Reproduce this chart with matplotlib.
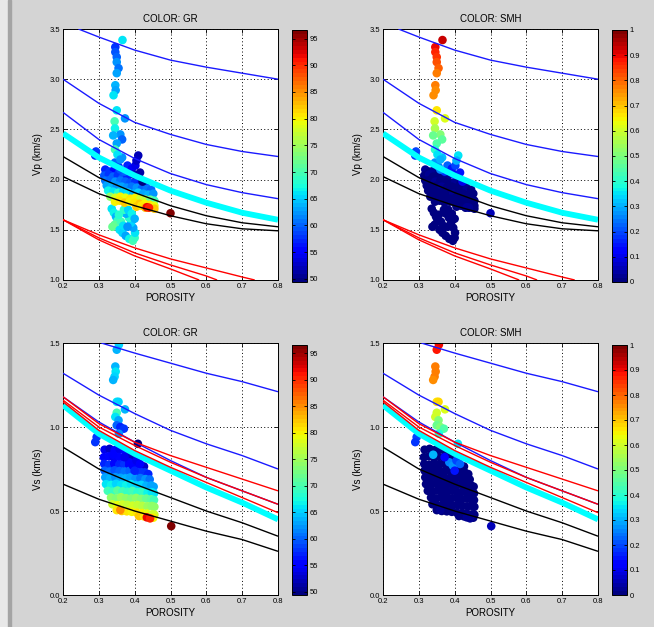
"""Vp / Vs vs porosity crossplots coloured by GR and SMH, with model lines."""

import matplotlib

matplotlib.use("Agg")
import matplotlib.pyplot as plt
import numpy as np
from matplotlib.patches import Rectangle

plt.rcParams["font.family"] = ["Liberation Sans", "DejaVu Sans"]

# --- model curves (x = porosity) ---
PHI = [0.2, 0.3, 0.4, 0.5, 0.6, 0.7, 0.8]

VP_BLUE1_PHI = [0.243, 0.3, 0.4, 0.5, 0.6, 0.7, 0.8]
VP_BLUE1 = [3.50, 3.42, 3.29, 3.19, 3.12, 3.06, 3.00]
VP_BLUE2 = [3.00, 2.76, 2.57, 2.45, 2.35, 2.28, 2.23]
VP_BLUE3 = [2.67, 2.40, 2.21, 2.06, 1.95, 1.87, 1.81]
VP_CYAN = [2.46, 2.22, 2.04, 1.89, 1.77, 1.67, 1.60]
VP_BLACK1 = [2.23, 2.02, 1.87, 1.74, 1.64, 1.57, 1.53]
VP_BLACK2 = [2.03, 1.86, 1.74, 1.64, 1.56, 1.51, 1.49]
VP_RED1_PHI = [0.2, 0.3, 0.4, 0.5, 0.6, 0.7, 0.735]
VP_RED1 = [1.60, 1.45, 1.32, 1.21, 1.12, 1.03, 1.00]
VP_RED2_PHI = [0.2, 0.3, 0.4, 0.5, 0.6, 0.63]
VP_RED2 = [1.60, 1.42, 1.27, 1.15, 1.04, 1.00]
VP_RED3_PHI = [0.2, 0.3, 0.4, 0.5, 0.58]
VP_RED3 = [1.60, 1.40, 1.24, 1.11, 1.00]

VS_BLUE1_PHI = [0.307, 0.4, 0.5, 0.6, 0.7, 0.8]
VS_BLUE1 = [1.50, 1.44, 1.38, 1.32, 1.27, 1.21]
VS_BLUE2 = [1.32, 1.19, 1.08, 0.98, 0.90, 0.83, 0.75]
VS_BLUE3 = [1.18, 1.03, 0.91, 0.80, 0.70, 0.62, 0.54]
VS_RED1 = [1.18, 1.02, 0.91, 0.83, 0.76, 0.69, 0.62]
VS_RED2 = [1.16, 1.00, 0.89, 0.79, 0.70, 0.62, 0.54]
VS_RED3 = [1.15, 0.98, 0.86, 0.76, 0.67, 0.58, 0.49]
VS_CYAN = [1.13, 0.96, 0.84, 0.74, 0.64, 0.55, 0.45]
VS_BLACK1 = [0.88, 0.75, 0.66, 0.58, 0.50, 0.43, 0.35]
VS_BLACK2 = [0.66, 0.57, 0.50, 0.44, 0.38, 0.33, 0.26]

# --- Vp samples ---
# bulk cloud + low-Vp tail (shale-free, SMH ~ 0)
VP_BULK_PHI = [
    0.318, 0.330, 0.342, 0.356,
    0.315, 0.328, 0.340, 0.353, 0.366, 0.380,
    0.318, 0.332, 0.346, 0.360, 0.374, 0.388, 0.402, 0.416, 0.430,
    0.322, 0.336, 0.350, 0.364, 0.378, 0.392, 0.406, 0.420, 0.434, 0.446,
    0.326, 0.340, 0.354, 0.368, 0.382, 0.396, 0.410, 0.424, 0.438, 0.452,
    0.336, 0.342, 0.348, 0.352, 0.344, 0.338, 0.358, 0.366, 0.375, 0.385,
    0.395, 0.400, 0.401, 0.396, 0.390, 0.384, 0.376, 0.370, 0.382, 0.392,
    0.400, 0.362, 0.368, 0.356, 0.380,
    0.332, 0.346, 0.360, 0.374, 0.388, 0.402, 0.416, 0.430, 0.444, 0.455,
    0.345, 0.358, 0.372, 0.386, 0.400, 0.414, 0.428, 0.442, 0.455,
    0.405, 0.418, 0.430, 0.448, 0.455,
]
VP_BULK_V = [
    2.10, 2.08, 2.09, 2.07,
    2.04, 2.05, 2.03, 2.04, 2.02, 2.03,
    1.99, 2.00, 1.98, 1.99, 1.98, 1.97, 1.98, 1.96, 1.95,
    1.94, 1.93, 1.94, 1.93, 1.92, 1.93, 1.92, 1.91, 1.91, 1.90,
    1.89, 1.88, 1.87, 1.88, 1.87, 1.86, 1.87, 1.86, 1.85, 1.86,
    1.71, 1.67, 1.63, 1.59, 1.55, 1.53, 1.50, 1.47, 1.44, 1.41,
    1.39, 1.42, 1.47, 1.52, 1.57, 1.62, 1.66, 1.70, 1.70, 1.66,
    1.61, 1.58, 1.54, 1.65, 1.53,
    1.83, 1.82, 1.83, 1.82, 1.81, 1.82, 1.81, 1.80, 1.80, 1.79,
    1.78, 1.79, 1.77, 1.78, 1.77, 1.76, 1.76, 1.75, 1.74,
    1.73, 1.74, 1.72, 1.72, 1.71,
]
VP_BULK_GR = [
    57, 58, 56, 58,
    59, 58, 60, 58, 59, 57,
    61, 60, 62, 61, 60, 59, 58, 57, 56,
    63, 64, 62, 63, 62, 61, 62, 60, 61, 60,
    67, 66, 68, 65, 66, 64, 65, 63, 64, 62,
    66, 67, 64, 69, 71, 72, 66, 65, 63, 67,
    70, 69, 66, 63, 65, 68, 64, 69, 65, 67,
    64, 70, 66, 68, 62,
    74, 78, 80, 79, 81, 80, 78, 77, 72, 70,
    80, 81, 82, 80, 81, 82, 80, 81, 79,
    82, 81, 83, 80, 82,
]
VP_BULK_SMH = [
    0.02, 0.01, 0.02, 0.01,
    0.01, 0.02, 0.01, 0.00, 0.01, 0.02,
    0.00, 0.01, 0.02, 0.01, 0.00, 0.01, 0.02, 0.01, 0.00,
    0.01, 0.00, 0.01, 0.02, 0.00, 0.01, 0.00, 0.01, 0.02, 0.00,
    0.00, 0.01, 0.00, 0.01, 0.00, 0.02, 0.01, 0.00, 0.01, 0.00,
    0.00, 0.01, 0.00, 0.00, 0.01, 0.00, 0.01, 0.00, 0.00, 0.01,
    0.00, 0.01, 0.00, 0.00, 0.01, 0.00, 0.00, 0.01, 0.00, 0.00,
    0.01, 0.00, 0.00, 0.01, 0.00,
    0.00, 0.01, 0.00, 0.01, 0.00, 0.00, 0.01, 0.00, 0.00, 0.01,
    0.00, 0.00, 0.01, 0.00, 0.00, 0.01, 0.00, 0.00, 0.01,
    0.00, 0.01, 0.00, 0.00, 0.01,
]
# points just above the cloud
VP_UP_PHI = [0.292, 0.290, 0.345, 0.355, 0.365, 0.380, 0.372, 0.392, 0.402, 0.410,
             0.405, 0.398, 0.415, 0.422, 0.360]
VP_UP_V = [2.28, 2.24, 2.17, 2.13, 2.22, 2.14, 2.08, 2.11, 2.14, 2.24,
           2.19, 2.05, 2.07, 1.98, 2.10]
VP_UP_GR = [58, 57, 60, 58, 62, 57, 60, 55, 54, 52,
            53, 52, 51, 50, 59]
VP_UP_SMH = [0.20, 0.18, 0.28, 0.25, 0.32, 0.22, 0.18, 0.15, 0.20, 0.35,
             0.30, 0.12, 0.15, 0.10, 0.25]
# high-velocity column
VP_COL_PHI = [0.366, 0.346, 0.346, 0.350, 0.350, 0.355, 0.350, 0.346, 0.347, 0.341,
              0.350, 0.373, 0.344, 0.345, 0.360, 0.340, 0.365, 0.350, 0.345, 0.352,
              0.360]
VP_COL_V = [3.39, 3.32, 3.27, 3.22, 3.17, 3.11, 3.06, 2.94, 2.89, 2.84,
            2.69, 2.61, 2.58, 2.51, 2.45, 2.44, 2.40, 2.36, 2.30, 2.25,
            2.20]
VP_COL_GR = [66, 58, 59, 60, 62, 61, 63, 64, 63, 66,
             66, 62, 70, 67, 62, 64, 60, 63, 70, 66,
             62]
VP_COL_SMH = [0.93, 0.90, 0.86, 0.85, 0.82, 0.80, 0.78, 0.78, 0.76, 0.75,
              0.67, 0.62, 0.60, 0.55, 0.50, 0.48, 0.46, 0.45, 0.40, 0.35,
              0.30]
# high-GR points
VP_HI_PHI = [0.434, 0.440, 0.500]
VP_HI_V = [1.725, 1.720, 1.665]
VP_HI_GR = [92, 90, 96]
VP_HI_SMH = [0.02, 0.02, 0.06]

# --- Vs samples ---
VS_BULK_PHI = [
    0.316, 0.330, 0.344, 0.358, 0.372,
    0.314, 0.328, 0.342, 0.356, 0.370, 0.384, 0.398,
    0.315, 0.329, 0.343, 0.357, 0.371, 0.385, 0.399, 0.413, 0.426,
    0.316, 0.330, 0.344, 0.358, 0.372, 0.386, 0.400, 0.414, 0.428, 0.438,
    0.318, 0.332, 0.346, 0.360, 0.374, 0.388, 0.402, 0.416, 0.430, 0.442,
    0.320, 0.334, 0.348, 0.362, 0.376, 0.390, 0.404, 0.418, 0.432, 0.446, 0.453,
    0.325, 0.338, 0.352, 0.366, 0.380, 0.394, 0.408, 0.422, 0.436, 0.448, 0.454,
    0.334, 0.348, 0.362, 0.376, 0.390, 0.404, 0.418, 0.432, 0.446, 0.454,
    0.338, 0.352, 0.366, 0.380, 0.394, 0.408, 0.422, 0.436, 0.448, 0.455,
    0.350, 0.364, 0.378, 0.392, 0.406, 0.420, 0.434, 0.448, 0.455,
    0.412, 0.426, 0.452,
]
VS_BULK_V = [
    0.865, 0.870, 0.862, 0.868, 0.858,
    0.820, 0.825, 0.818, 0.822, 0.815, 0.820, 0.810,
    0.780, 0.775, 0.782, 0.776, 0.780, 0.772, 0.778, 0.770, 0.765,
    0.740, 0.735, 0.742, 0.738, 0.735, 0.740, 0.732, 0.736, 0.730, 0.720,
    0.700, 0.695, 0.702, 0.698, 0.694, 0.700, 0.692, 0.696, 0.690, 0.688,
    0.660, 0.655, 0.662, 0.656, 0.654, 0.660, 0.652, 0.656, 0.650, 0.652, 0.645,
    0.620, 0.615, 0.622, 0.617, 0.614, 0.620, 0.612, 0.616, 0.610, 0.612, 0.605,
    0.580, 0.575, 0.582, 0.576, 0.574, 0.578, 0.572, 0.574, 0.570, 0.565,
    0.540, 0.535, 0.538, 0.536, 0.532, 0.535, 0.530, 0.528, 0.530, 0.525,
    0.505, 0.500, 0.498, 0.495, 0.490, 0.488, 0.485, 0.480, 0.478,
    0.470, 0.468, 0.460,
]
VS_BULK_GR = [
    54, 53, 55, 54, 56,
    55, 56, 54, 56, 55, 53, 52,
    57, 58, 56, 57, 58, 56, 55, 54, 53,
    60, 61, 59, 60, 61, 60, 59, 58, 58, 57,
    63, 64, 62, 63, 64, 63, 62, 61, 62, 61,
    66, 67, 65, 66, 67, 66, 65, 65, 64, 63, 63,
    70, 69, 71, 70, 69, 70, 68, 69, 67, 66, 66,
    74, 73, 75, 74, 73, 74, 73, 72, 71, 70,
    78, 79, 78, 77, 78, 77, 76, 75, 74, 74,
    81, 82, 81, 80, 81, 80, 79, 78, 78,
    82, 81, 80,
]
VS_BULK_SMH = [
    0.01, 0.00, 0.01, 0.00, 0.01,
    0.00, 0.01, 0.00, 0.01, 0.00, 0.01, 0.00,
    0.00, 0.01, 0.00, 0.00, 0.01, 0.00, 0.01, 0.00, 0.00,
    0.01, 0.00, 0.00, 0.01, 0.00, 0.00, 0.01, 0.00, 0.00, 0.01,
    0.00, 0.00, 0.01, 0.00, 0.00, 0.01, 0.00, 0.00, 0.01, 0.00,
    0.00, 0.01, 0.00, 0.00, 0.01, 0.00, 0.00, 0.01, 0.00, 0.00, 0.01,
    0.00, 0.00, 0.01, 0.00, 0.00, 0.01, 0.00, 0.00, 0.01, 0.00, 0.00,
    0.01, 0.00, 0.00, 0.01, 0.00, 0.00, 0.01, 0.00, 0.00, 0.01,
    0.00, 0.00, 0.01, 0.00, 0.00, 0.01, 0.00, 0.00, 0.01, 0.00,
    0.00, 0.01, 0.00, 0.00, 0.01, 0.00, 0.00, 0.01, 0.00,
    0.00, 0.01, 0.00,
]
VS_LIGHT_PHI = [0.340, 0.385, 0.395, 0.400, 0.405, 0.415, 0.372]
VS_LIGHT_V = [0.835, 0.79, 0.77, 0.74, 0.80, 0.78, 0.82]
VS_LIGHT_GR = [55, 56, 55, 57, 54, 55, 54]
VS_LIGHT_SMH = [0.30, 0.25, 0.28, 0.15, 0.20, 0.22, 0.12]

VS_COL_PHI = [0.356, 0.350, 0.346, 0.347, 0.344, 0.340, 0.350, 0.355, 0.373, 0.350,
              0.346, 0.355, 0.350, 0.360, 0.370, 0.356, 0.294, 0.290, 0.409]
VS_COL_V = [1.49, 1.46, 1.36, 1.33, 1.30, 1.28, 1.15, 1.15, 1.105, 1.085,
            1.06, 1.04, 1.01, 1.00, 0.99, 0.96, 0.94, 0.91, 0.90]
VS_COL_GR = [65, 64, 64, 66, 65, 64, 66, 65, 64, 70,
             66, 63, 60, 57, 58, 62, 58, 58, 50]
VS_COL_SMH = [0.90, 0.88, 0.78, 0.78, 0.77, 0.76, 0.66, 0.68, 0.62, 0.60,
              0.60, 0.50, 0.48, 0.50, 0.45, 0.38, 0.20, 0.18, 0.35]

VS_HI_PHI = [0.360, 0.434, 0.443, 0.502]
VS_HI_V = [0.506, 0.462, 0.456, 0.410]
VS_HI_GR = [85, 92, 90, 96]
VS_HI_SMH = [0.02, 0.02, 0.02, 0.06]

GR_TICKS = [50, 55, 60, 65, 70, 75, 80, 85, 90, 95]
GR_LIM = (49.4, 96.6)
SMH_TICKS = [0, 0.1, 0.2, 0.3, 0.4, 0.5, 0.6, 0.7, 0.8, 0.9, 1]
SMH_TICKLABELS = ["0", "0.1", "0.2", "0.3", "0.4", "0.5", "0.6", "0.7", "0.8", "0.9", "1"]
X_TICKS = [0.2, 0.3, 0.4, 0.5, 0.6, 0.7, 0.8]

W, H = 654, 627
CMAP = plt.get_cmap("jet", 64)
BLUE = "#1a1aff"


def fig_rect(x0, y0, x1, y1):
    """pixel box (top-left origin) -> figure fraction rect."""
    return [x0 / W, 1 - y1 / H, (x1 - x0) / W, (y1 - y0) / H]


def draw_panel(fig, ax_px, cb_px, phi, vel, col, clim, cticks, clabels,
               curves, ylim, yticks, ylabel, title):
    ax = fig.add_axes(fig_rect(*ax_px))
    cax = fig.add_axes(fig_rect(*cb_px))

    sc = ax.scatter(phi, vel, c=col, cmap=CMAP, vmin=clim[0], vmax=clim[1],
                    s=38, linewidths=0, zorder=2)
    for x, y, color, lw in curves:
        ax.plot(x, y, "-", color=color, lw=lw, zorder=3, solid_capstyle="butt")

    ax.set_xlim(0.2, 0.8)
    ax.set_ylim(*ylim)
    ax.set_xticks(X_TICKS)
    ax.set_xticklabels([f"{t:.1f}" for t in X_TICKS])
    ax.set_yticks(yticks)
    ax.set_yticklabels([f"{t:.1f}" for t in yticks])
    ax.grid(True, color="black", linestyle=(0, (1, 2.5)), lw=0.7)
    ax.set_axisbelow(True)
    ax.tick_params(direction="in", top=True, right=True, length=3, width=0.6,
                   labelsize=5.5, pad=2)
    for sp in ax.spines.values():
        sp.set_linewidth(0.7)
    ax.set_xlabel("POROSITY", fontsize=7, labelpad=2)
    ax.set_ylabel(ylabel, fontsize=7, labelpad=5)
    ax.set_title(title, fontsize=7, pad=5)

    cb = fig.colorbar(sc, cax=cax)
    cb.set_ticks(cticks)
    cb.set_ticklabels(clabels)
    cax.yaxis.set_ticks_position("both")
    cax.tick_params(direction="in", length=2, width=0.6, labelsize=5.5, pad=2,
                    labelleft=False, labelright=True)
    cb.outline.set_linewidth(0.7)


def main():
    fig = plt.figure(figsize=(W / 100, H / 100), dpi=100, facecolor="#d4d4d4")
    # window frame strip on the left edge
    fig.add_artist(Rectangle((0, 0), 8 / W, 1, transform=fig.transFigure,
                             color="#e8e8e8", zorder=0))
    fig.add_artist(Rectangle((8 / W, 0), 3 / W, 1, transform=fig.transFigure,
                             color="#a4a4a4", zorder=0))

    vp_phi = np.concatenate([VP_BULK_PHI, VP_UP_PHI, VP_COL_PHI, VP_HI_PHI])
    vp_v = np.concatenate([VP_BULK_V, VP_UP_V, VP_COL_V, VP_HI_V])
    vp_gr = np.concatenate([VP_BULK_GR, VP_UP_GR, VP_COL_GR, VP_HI_GR])
    vp_smh = np.concatenate([VP_BULK_SMH, VP_UP_SMH, VP_COL_SMH, VP_HI_SMH])

    vs_phi = np.concatenate([VS_BULK_PHI, VS_LIGHT_PHI, VS_COL_PHI, VS_HI_PHI])
    vs_v = np.concatenate([VS_BULK_V, VS_LIGHT_V, VS_COL_V, VS_HI_V])
    vs_gr = np.concatenate([VS_BULK_GR, VS_LIGHT_GR, VS_COL_GR, VS_HI_GR])
    vs_smh = np.concatenate([VS_BULK_SMH, VS_LIGHT_SMH, VS_COL_SMH, VS_HI_SMH])

    vp_curves = [
        (VP_BLUE1_PHI, VP_BLUE1, BLUE, 1.0),
        (PHI, VP_BLUE2, BLUE, 1.0),
        (PHI, VP_BLUE3, BLUE, 1.0),
        (PHI, VP_CYAN, "#00ffff", 4.2),
        (PHI, VP_BLACK1, "black", 1.0),
        (PHI, VP_BLACK2, "black", 1.0),
        (VP_RED1_PHI, VP_RED1, "red", 1.0),
        (VP_RED2_PHI, VP_RED2, "red", 1.0),
        (VP_RED3_PHI, VP_RED3, "red", 1.0),
    ]
    vs_curves = [
        (VS_BLUE1_PHI, VS_BLUE1, BLUE, 1.0),
        (PHI, VS_BLUE2, BLUE, 1.0),
        (PHI, VS_CYAN, "#00ffff", 4.2),
        (PHI, VS_BLUE3, BLUE, 1.0),
        (PHI, VS_RED1, "red", 1.0),
        (PHI, VS_RED2, "red", 1.0),
        (PHI, VS_RED3, "red", 1.0),
        (PHI, VS_BLACK1, "black", 1.0),
        (PHI, VS_BLACK2, "black", 1.0),
    ]
    gr_labels = [str(t) for t in GR_TICKS]
    vp_ticks = [1.0, 1.5, 2.0, 2.5, 3.0, 3.5]
    vs_ticks = [0.0, 0.5, 1.0, 1.5]

    draw_panel(fig, (63, 29, 278, 280), (292, 30, 307, 282), vp_phi, vp_v, vp_gr,
               GR_LIM, GR_TICKS, gr_labels, vp_curves, (1.0, 3.5), vp_ticks,
               "Vp (km/s)", "COLOR: GR")
    draw_panel(fig, (383, 29, 598, 280), (612, 30, 627, 282), vp_phi, vp_v, vp_smh,
               (0, 1), SMH_TICKS, SMH_TICKLABELS, vp_curves, (1.0, 3.5), vp_ticks,
               "Vp (km/s)", "COLOR: SMH")
    draw_panel(fig, (63, 343, 278, 595), (292, 345, 307, 595), vs_phi, vs_v, vs_gr,
               GR_LIM, GR_TICKS, gr_labels, vs_curves, (0.0, 1.5), vs_ticks,
               "Vs (km/s)", "COLOR: GR")
    draw_panel(fig, (383, 343, 598, 595), (612, 345, 627, 595), vs_phi, vs_v, vs_smh,
               (0, 1), SMH_TICKS, SMH_TICKLABELS, vs_curves, (0.0, 1.5), vs_ticks,
               "Vs (km/s)", "COLOR: SMH")

    fig.savefig("out.png", dpi=100, facecolor=fig.get_facecolor())


if __name__ == "__main__":
    main()
